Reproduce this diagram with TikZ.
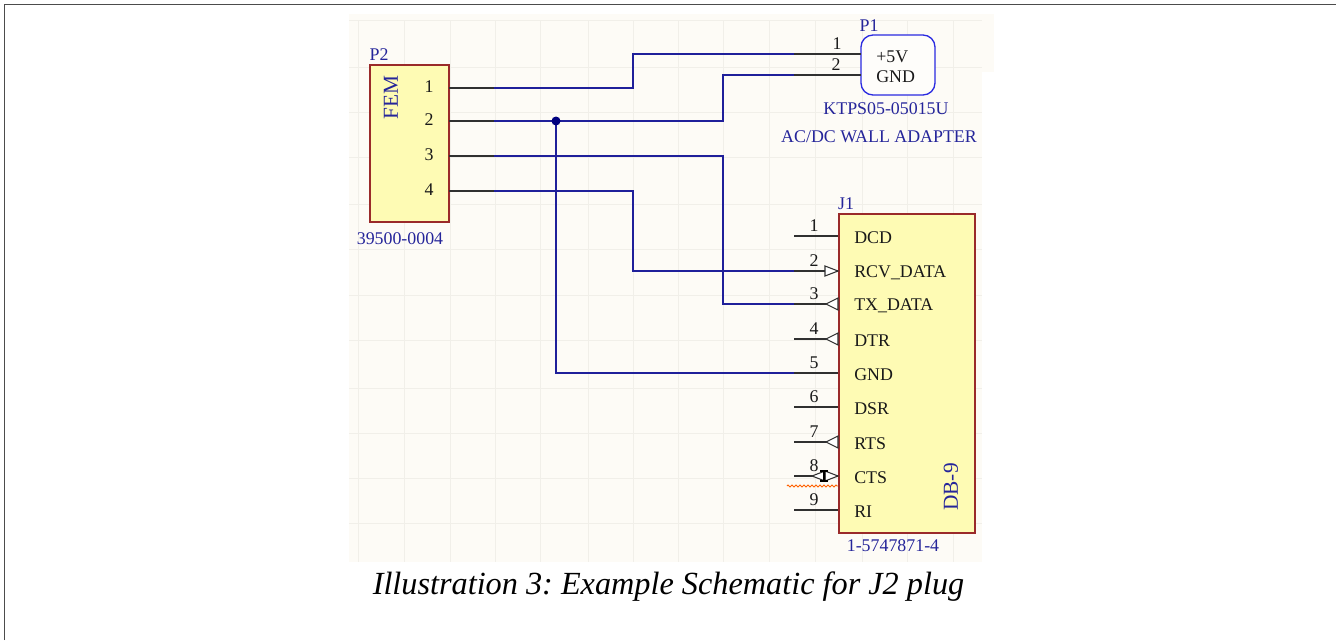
\documentclass[tikz,border=0pt]{standalone}
\usepackage{fontspec}
\setmainfont{Liberation Serif}
\frenchspacing
\usetikzlibrary{decorations.pathmorphing}
\definecolor{sheet}{HTML}{FDFBF6}
\definecolor{gridc}{HTML}{F1EFE9}
\definecolor{wirec}{HTML}{1F1F9A}
\definecolor{pinc}{HTML}{303030}
\definecolor{boxc}{HTML}{9A2A2A}
\definecolor{fillc}{HTML}{FEFBB4}
\definecolor{labc}{HTML}{25259A}
\definecolor{p1c}{HTML}{2A2AE0}
\definecolor{dotc}{HTML}{00007F}
\tikzset{
  wire/.style={draw=wirec,line width=1.5pt},
  pin/.style={draw=pinc,line width=1.5pt},
  part/.style={draw=boxc,fill=fillc,line width=1.5pt,outer sep=0pt},
  lab/.style={text=labc,font=\fontsize{13.4}{14}\selectfont,inner sep=0pt},
  pintxt/.style={text=black!90,font=\fontsize{13.4}{14}\selectfont,inner sep=0pt},
  iotri/.style={draw=pinc,fill=white,line width=.8pt},
  gridl/.style={draw=gridc,line width=.75pt}
}
\begin{document}
\begin{tikzpicture}[x=0.75pt,y=-0.75pt]
\useasboundingbox (0,0) rectangle (1336,640);
\draw[black!70,line width=1.2pt] (4.5,640) -- (4.5,4.5) -- (1336,4.5);
% sheet
\fill[sheet] (349,14) rectangle (982,562);
\fill[sheet] (982,14) rectangle (994,72);
\foreach \gx in {358,404,450,495,540,588,633,678,723,769,815,862,907,953}
  \draw[gridl] (\gx,20) -- (\gx,562);
\foreach \gy in {20,67,112,157,204,249,295,340,388,433,478,523}
  \draw[gridl] (349,\gy) -- (982,\gy);
% P2
\node[part,inner sep=0pt,anchor=north west,
  minimum width=79*0.75pt,minimum height=157*0.75pt] (P2) at (369.5,65) {};
\node[lab,anchor=south] (P2n) at (379,60.5) {P2};
\node[lab,rotate=90,anchor=center,font=\fontsize{16}{17}\selectfont] (P2v) at (391,97.5) {FEM};
\node[lab,anchor=center] (P2c) at (400,239) {39500-0004};
\foreach \n/\yy in {1/88,2/121,3/156,4/191} {
  \coordinate (a\n) at (449,\yy);
  \coordinate (b\n) at (494,\yy);
  \node[pintxt] (an\n) at (429,\yy-1) {\n};
}
% P1
\node[draw=p1c,fill=sheet!60!white,line width=1pt,outer sep=0pt,rounded corners=9pt,inner sep=0pt,
  minimum width=74*0.75pt,minimum height=60*0.75pt,anchor=north west] (P1) at (861,35) {};
\node[lab,anchor=south] (P1n) at (869,31.5) {P1};
\node[pintxt,anchor=west] (p5) at (876,57) {+5V};
\node[pintxt,anchor=west] (pg) at (876,77) {GND};
\node[lab] (P1c) at (886,109) {KTPS05-05015U};
\node[lab] (P1d) at (879,137) {AC/DC WALL ADAPTER};
\coordinate (c1) at (794,54);
\coordinate (c2) at (794,75);
\coordinate (d1) at (861,54);
\coordinate (d2) at (861,75);
\node[pintxt] (c1n) at (837,44) {1};
\node[pintxt] (c2n) at (836,65) {2};
% J1
\node[part,inner sep=0pt,minimum width=136*0.75pt,minimum height=319*0.75pt,anchor=north west] (J1) at (838.5,213.5) {};
\node[lab,anchor=south] (J1n) at (846,209.5) {J1};
\node[lab,rotate=90,font=\fontsize{16}{17}\selectfont] (J1v) at (951,487) {DB-9};
\node[lab] (J1c) at (893,546) {1-5747871-4};
\foreach \n/\yy/\t in {1/236/DCD,2/271/RCV\_DATA,3/304/TX\_DATA,4/339/DTR,5/373/GND,6/407/DSR,7/442/RTS,8/476/CTS,9/510/RI} {
  \coordinate (e\n) at (794,\yy);
  \coordinate (f\n) at (838,\yy);
  \draw[pin] (e\n) -- (f\n);
  \node[pintxt] (en\n) at (814,\yy-10) {\n};
  \node[pintxt,anchor=west] (et\n) at (854,\yy+2) {\t};
}
% IO triangles
\foreach \n in {3,4,7}
  \draw[iotri] (f\n) ++(0,-6) -- ++(0,12) -- ++(-12,-6) -- cycle;
\foreach \n in {2,8}
  \draw[iotri] (f\n) ++(-13,-5) -- ++(0,10) -- (f\n) -- cycle;
\draw[iotri] (f8) ++(-26,0) -- ++(13,-5) -- ++(0,10) -- cycle;
\draw[black,line width=1.4pt] (824,471) -- (824,481) (820,471) -- (828,471) (820,481) -- (828,481);
% squiggle
\draw[draw=orange!75!red,line width=.6pt,decorate,decoration={zigzag,segment length=3pt,amplitude=.8pt}] (787,486) -- (838,486);
% wires
\draw[wire] (b1) -- (633,88) -- (633,54) -- (c1);
\draw[wire] (b2) -- (723,121) -- (723,75) -- (c2);
\draw[wire] (b3) -- (723,156) -- (723,304) -- (e3);
\draw[wire] (b4) -- (633,191) -- (633,271) -- (e2);
\draw[wire] (556,121) -- (556,373) -- (e5);
\fill[dotc] (556,121) circle (4.5);
% P2 / P1 pins
\foreach \n in {1,2,3,4} \draw[pin] (a\n) -- (b\n);
\draw[pin] (c1) -- (d1);
\draw[pin] (c2) -- (d2);
% caption
\node[inner sep=0pt,font=\fontsize{24.2}{28}\selectfont\itshape] (cap) at (668.5,587) {Illustration 3: Example Schematic for J2 plug};
\end{tikzpicture}
\end{document}
